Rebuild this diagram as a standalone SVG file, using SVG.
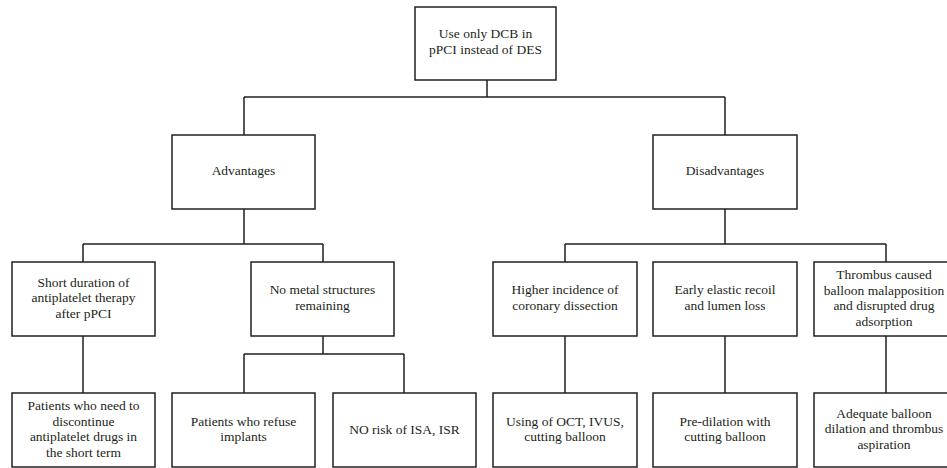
<svg xmlns="http://www.w3.org/2000/svg" width="947" height="468" viewBox="0 0 947 468">
<style>
rect{fill:#fff;stroke:#231f20;stroke-width:1.5}
#connectors path{fill:none;stroke:#231f20;stroke-width:1.5}
text{font-family:"Liberation Serif","Times New Roman",serif;font-size:13.5px;fill:#231f20;text-anchor:middle}
</style>
<rect x="0" y="0" width="947" height="468" style="stroke:none;fill:#fff"/>
<g id="connectors">
<path d="M487 80V97M244 97H725M244 97V135M725 97V135"/>
<path d="M244 209V244M83 244H323M83 244V262M323 244V262"/>
<path d="M725 209V244M565 244H886M565 244V262M886 244V262"/>
<path d="M83 336V393"/>
<path d="M323 336V354M244 354H404M244 354V393M404 354V393"/>
<path d="M565 336V393M725 336V393M886 336V393"/>
</g>
<g id="root"><rect x="415" y="7" width="141" height="73"/><text x="485.5" y="38">Use only DCB in</text><text x="485.5" y="53.5">pPCI instead of DES</text></g>
<g id="advantages"><rect x="172" y="135" width="143" height="74"/><text x="243.5" y="175">Advantages</text></g>
<g id="disadvantages"><rect x="653" y="135" width="144" height="74"/><text x="725" y="175">Disadvantages</text></g>
<g id="a1"><rect x="12" y="262" width="143" height="74"/><text x="83.5" y="286.5">Short duration of</text><text x="83.5" y="302">antiplatelet therapy</text><text x="83.5" y="317.5">after pPCI</text></g>
<g id="a2"><rect x="251" y="262" width="143" height="74"/><text x="322.5" y="294">No metal structures</text><text x="322.5" y="309.5">remaining</text></g>
<g id="d1"><rect x="493" y="262" width="144" height="74"/><text x="565" y="294">Higher incidence of</text><text x="565" y="309.5">coronary dissection</text></g>
<g id="d2"><rect x="653" y="262" width="144" height="74"/><text x="725" y="294">Early elastic recoil</text><text x="725" y="309.5">and lumen loss</text></g>
<g id="d3"><rect x="814" y="262" width="144" height="74"/><text x="884" y="279">Thrombus caused</text><text x="884" y="294.5">balloon malapposition</text><text x="884" y="310">and disrupted drug</text><text x="884" y="325.5">adsorption</text></g>
<g id="b1"><rect x="12" y="393" width="143" height="74"/><text x="83.5" y="410">Patients who need to</text><text x="83.5" y="425.5">discontinue</text><text x="83.5" y="441">antiplatelet drugs in</text><text x="83.5" y="456.5">the short term</text></g>
<g id="b2"><rect x="172" y="393" width="143" height="74"/><text x="243.5" y="425.5">Patients who refuse</text><text x="243.5" y="441">implants</text></g>
<g id="b3"><rect x="333" y="393" width="143" height="74"/><text x="404.5" y="433.5">NO risk of ISA, ISR</text></g>
<g id="b4"><rect x="493" y="393" width="144" height="74"/><text x="565" y="425.5">Using of OCT, IVUS,</text><text x="565" y="441">cutting balloon</text></g>
<g id="b5"><rect x="653" y="393" width="144" height="74"/><text x="725" y="425.5">Pre-dilation with</text><text x="725" y="441">cutting balloon</text></g>
<g id="b6"><rect x="814" y="393" width="144" height="74"/><text x="884" y="417.5">Adequate balloon</text><text x="884" y="433">dilation and thrombus</text><text x="884" y="448.5">aspiration</text></g>
</svg>
